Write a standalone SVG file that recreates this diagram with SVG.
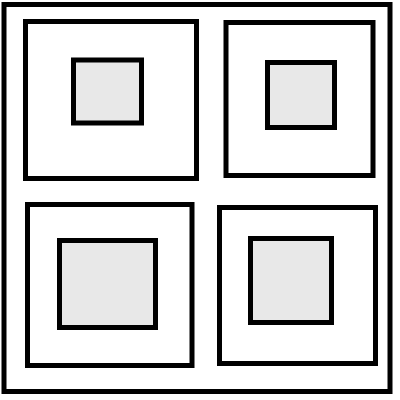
<svg xmlns="http://www.w3.org/2000/svg" width="400" height="400" viewBox="0 0 400 400">
<style>
.frame{fill:#ffffff;stroke:#000000;stroke-width:5}
.room{fill:#ffffff;stroke:#000000;stroke-width:5}
.core{fill:#e8e8e8;stroke:#000000;stroke-width:5}
</style>
<rect width="400" height="400" fill="#ffffff"/>
<rect id="outer" class="frame" x="4" y="4.5" width="386" height="387"/>
<g id="node-tl">
<rect class="room" x="25.5" y="21.5" width="171" height="157"/>
<rect class="core" x="73.5" y="60" width="68" height="63"/>
</g>
<g id="node-tr">
<rect class="room" x="226" y="22.5" width="147" height="153"/>
<rect class="core" x="267.5" y="62.5" width="67" height="65"/>
</g>
<g id="node-bl">
<rect class="room" x="27.5" y="204.5" width="164.5" height="161"/>
<rect class="core" x="59.5" y="240.5" width="96" height="87"/>
</g>
<g id="node-br">
<rect class="room" x="219.5" y="207.5" width="156" height="156"/>
<rect class="core" x="250.5" y="238.5" width="81" height="84"/>
</g>
<g id="connectors"></g>
</svg>
